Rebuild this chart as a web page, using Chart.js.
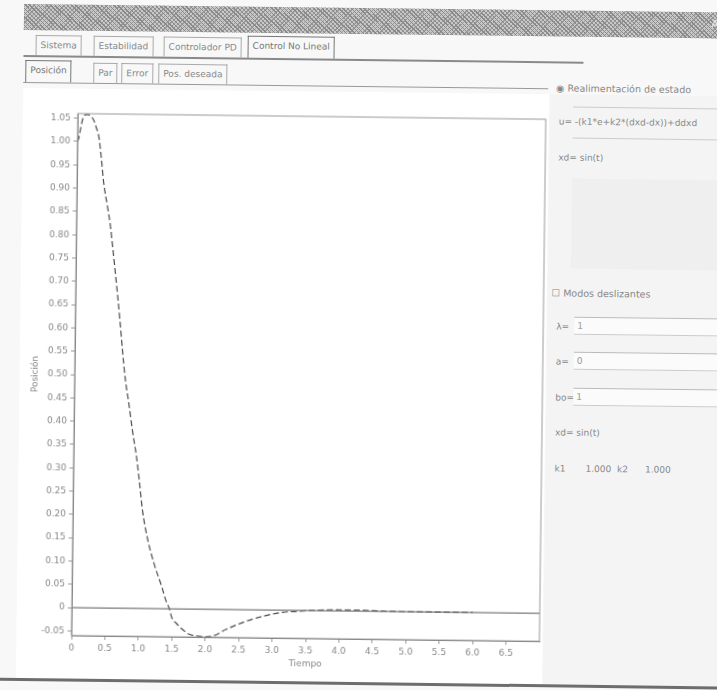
<!DOCTYPE html>
<html>
<head>
<meta charset="utf-8">
<script src="https://cdn.jsdelivr.net/npm/chart.js"></script>
<style>
html,body{margin:0;padding:0;width:717px;height:690px;overflow:hidden;background:#f8f8f8;font-family:"DejaVu Sans",sans-serif;}
#page{position:absolute;left:0;top:0;width:717px;height:690px;transform:rotate(0.7deg);transform-origin:358px 345px;}
.bar{position:absolute;left:20px;top:8px;width:720px;height:26px;
  background:repeating-linear-gradient(45deg,#8a8a8a 0 1px,transparent 1px 3px),repeating-linear-gradient(-45deg,#9a9a9a 0 1px,#c8c8c8 1px 3px);}
.bar span{position:absolute;right:14px;top:6px;font-size:10px;color:#eee;}
.tab{position:absolute;height:19px;line-height:19px;font-size:9px;color:#888;border:1px solid #aaa;border-bottom:none;padding:0 4px;background:#f8f8f8;white-space:nowrap;}
.tab.sel{border:1px solid #777;border-bottom:none;color:#777;height:21px;}
.hline{position:absolute;height:0;border-top:2px solid #8a8a8a;}
#plotpanel{position:absolute;left:20px;top:92px;width:526px;height:590px;background:#fff;}
#side{position:absolute;left:547px;top:92px;width:190px;height:590px;background:#f4f4f4;}
.lbl{position:absolute;font-size:9px;color:#888;white-space:nowrap;}
.fld{position:absolute;left:574px;width:150px;height:16px;background:#fbfbfb;border-top:1px solid #bbb;border-bottom:1px solid #ccc;font-size:9px;color:#999;line-height:16px;padding-left:3px;}
.thin{position:absolute;left:570px;width:150px;border-top:1px solid #ccc;}
#wrap{position:absolute;left:0;top:95px;width:550px;height:585px;}
.bottom{position:absolute;left:0;top:682px;width:740px;border-top:3px solid #6d6d6d;}
</style>
</head>
<body>
<div id="page">
  <div class="bar"><span>Ayu</span></div>

  <div class="tab" style="left:32px;top:39px;">Sistema</div>
  <div class="tab" style="left:90px;top:39px;">Estabilidad</div>
  <div class="tab" style="left:160px;top:39px;">Controlador PD</div>
  <div class="tab sel" style="left:244px;top:37px;">Control No Lineal</div>
  <div class="hline" style="left:20px;top:59px;width:560px;"></div>

  <div class="tab sel" style="left:22px;top:64px;">Posición</div>
  <div class="tab" style="left:90px;top:66px;">Par</div>
  <div class="tab" style="left:118px;top:66px;">Error</div>
  <div class="tab" style="left:155px;top:66px;">Pos. deseada</div>
  <div class="hline" style="left:20px;top:86px;width:525px;border-top-width:1px;border-color:#999;"></div>

  <div id="plotpanel"></div>
  <div id="side"></div>

  <div class="lbl" style="left:553px;top:80px;font-size:9.5px;">&#9673; Realimentación de estado</div>
  <div class="thin" style="top:104px;"></div>
  <div class="lbl" style="left:556px;top:114px;">u= -(k1*e+k2*(dxd-dx))+ddxd</div>
  <div class="thin" style="top:135px;"></div>
  <div class="lbl" style="left:556px;top:150px;">xd= sin(t)</div>
  <div style="position:absolute;left:570px;top:176px;width:150px;height:90px;background:#efefef;"></div>

  <div class="lbl" style="left:551px;top:285px;font-size:9.5px;">&#9744; Modos deslizantes</div>
  <div class="lbl" style="left:556px;top:319px;">λ=</div>
  <div class="fld" style="top:314px;">1</div>
  <div class="lbl" style="left:556px;top:354px;">a=</div>
  <div class="fld" style="top:349px;">0</div>
  <div class="lbl" style="left:556px;top:390px;">bo=</div>
  <div class="fld" style="top:385px;">1</div>
  <div class="lbl" style="left:556px;top:425px;">xd= sin(t)</div>
  <div class="lbl" style="left:556px;top:461px;">k1&nbsp;&nbsp;&nbsp;&nbsp;&nbsp;&nbsp;&nbsp;1.000&nbsp;&nbsp;k2&nbsp;&nbsp;&nbsp;&nbsp;&nbsp;&nbsp;1.000</div>

  <div id="wrap"><canvas id="grafica"></canvas></div>
  <div class="bottom"></div>
</div>

<script>
// datos (posicion vs tiempo)
const tiempo = [0, 0.02, 0.05, 0.09, 0.14, 0.19, 0.24, 0.28, 0.32, 0.36,
  0.40, 0.46, 0.51, 0.55, 0.59, 0.63, 0.67, 0.71, 0.76, 0.81,
  0.88, 0.94, 0.99, 1.04, 1.12, 1.23, 1.34, 1.41, 1.46, 1.50,
  1.56, 1.65, 1.76, 1.91, 2.00, 2.10, 2.31, 2.55, 2.85, 3.15,
  3.40, 3.70, 4.00, 4.30, 4.60, 5.00, 5.50, 6.00];
const posicion = [1.00, 1.008, 1.032, 1.055, 1.058, 1.056, 1.046, 1.03, 1.01, 0.965,
  0.912, 0.862, 0.818, 0.77, 0.72, 0.67, 0.615, 0.555, 0.49, 0.445,
  0.377, 0.326, 0.27, 0.21, 0.15, 0.093, 0.048, 0.016, 0, -0.02,
  -0.03, -0.043, -0.054, -0.058, -0.059, -0.058, -0.043, -0.028, -0.014, -0.005,
  -0.002, 0.001, 0.002, 0.002, 0.001, 0, 0, 0];

// linea de referencia en cero
const refTiempo = [0, 7];
const refValor = [0, 0];

const xTicks = [0, 0.5, 1.0, 1.5, 2.0, 2.5, 3.0, 3.5, 4.0, 4.5, 5.0, 5.5, 6.0, 6.5];
const yTicks = [-0.05, 0, 0.05, 0.10, 0.15, 0.20, 0.25, 0.30, 0.35, 0.40, 0.45, 0.50,
  0.55, 0.60, 0.65, 0.70, 0.75, 0.80, 0.85, 0.90, 0.95, 1.00, 1.05];

const marco = {
  id: 'marco',
  afterDraw(chart) {
    const a = chart.chartArea, c = chart.ctx;
    c.save();
    c.strokeStyle = '#9a9a9a';
    c.lineWidth = 1;
    c.strokeRect(a.left, a.top, a.right - a.left, a.bottom - a.top);
    c.restore();
  }
};

const fuente = {family: 'DejaVu Sans', size: 9};

new Chart(document.getElementById('grafica'), {
  type: 'line',
  data: {
    datasets: [{
      label: 'referencia',
      data: refTiempo.map((t, i) => ({x: t, y: refValor[i]})),
      borderColor: '#7a7a7a',
      borderWidth: 1.3,
      pointRadius: 0
    }, {
      label: 'posicion',
      data: tiempo.map((t, i) => ({x: t, y: posicion[i]})),
      borderColor: '#4a4a4a',
      borderWidth: 1.2,
      borderDash: [6, 3],
      pointRadius: 0,
      cubicInterpolationMode: 'monotone'
    }]
  },
  options: {
    responsive: true,
    maintainAspectRatio: false,
    animation: false,
    layout: {padding: {top: 22, right: 7, bottom: 0, left: 0}},
    plugins: {legend: {display: false}, tooltip: {enabled: false}},
    scales: {
      x: {
        type: 'linear', min: 0, max: 7,
        afterBuildTicks: s => { s.ticks = xTicks.map(v => ({value: v})); },
        afterFit: s => { s.height = 41; },
        ticks: {font: fuente, color: '#888', padding: 3, maxRotation: 0,
          callback: v => v === 0 ? '0' : v.toFixed(1)},
        grid: {drawOnChartArea: false, tickLength: 4, color: '#999'},
        border: {color: '#777'},
        title: {display: true, text: 'Tiempo', font: fuente, color: '#888', padding: {top: 0, bottom: 10}}
      },
      y: {
        type: 'linear', min: -0.06, max: 1.06,
        afterBuildTicks: s => { s.ticks = yTicks.map(v => ({value: v})); },
        afterFit: s => { s.width = 75; },
        ticks: {font: fuente, color: '#888', padding: 3,
          callback: v => Math.abs(v) < 1e-9 ? '0' : v.toFixed(2)},
        grid: {drawOnChartArea: false, tickLength: 4, color: '#999'},
        border: {color: '#777'},
        title: {display: true, text: 'Posición', font: fuente, color: '#888', padding: {top: 30, bottom: 0}}
      }
    }
  },
  plugins: [marco]
});
</script>
</body>
</html>
